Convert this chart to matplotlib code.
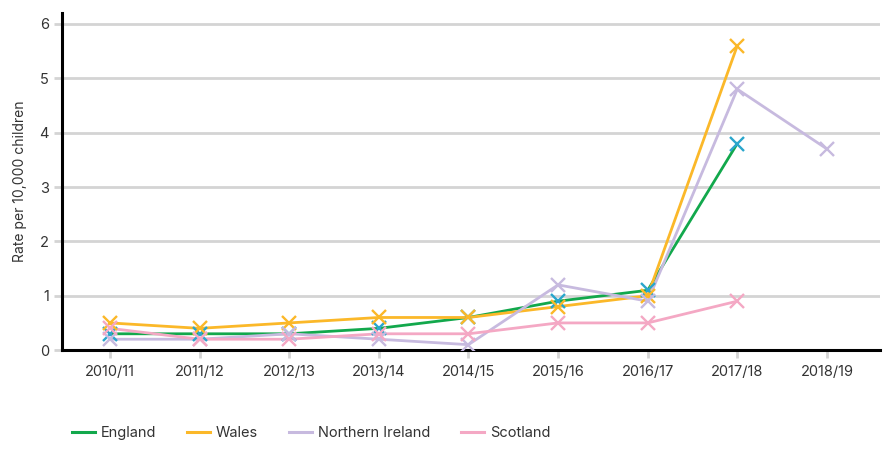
import matplotlib.pyplot as plt
from matplotlib.lines import Line2D

years = ['2010/11', '2011/12', '2012/13', '2013/14', '2014/15',
         '2015/16', '2016/17', '2017/18', '2018/19']
england = [0.3, 0.3, 0.3, 0.4, 0.6, 0.9, 1.1, 3.8]
wales = [0.5, 0.4, 0.5, 0.6, 0.6, 0.8, 1.0, 5.6]
n_ireland = [0.2, 0.2, 0.3, 0.2, 0.1, 1.2, 0.9, 4.8, 3.7]
scotland = [0.4, 0.2, 0.2, 0.3, 0.3, 0.5, 0.5, 0.9]

plt.rcParams['font.family'] = ['Inter', 'DejaVu Sans']

fig = plt.figure(figsize=(8.86, 4.5), dpi=100)
ax = fig.add_axes([0.07, 0.222, 0.923, 0.749])

# line colour, marker colour
series = [
    ('England', england, '#12a84c', '#2aa6cc'),
    ('Wales', wales, '#fbb829', '#fbb829'),
    ('Northern Ireland', n_ireland, '#c7badf', '#c7badf'),
    ('Scotland', scotland, '#f4a8c4', '#f4a8c4'),
]
for name, vals, lc, mc in series:
    xs = list(range(len(vals)))
    ax.plot(xs, vals, color=lc, lw=2, zorder=3)
    ax.plot(xs, vals, ls='none', marker='x', ms=10, mew=1.7, color=mc, zorder=4)

ax.set_xlim(-0.535, 8.59)
ax.set_ylim(0, 6.2)
ax.set_xticks(range(len(years)))
ax.set_xticklabels(years)
ax.set_yticks(range(7))
ax.yaxis.grid(True, color='#d4d4d4', lw=2)
ax.set_axisbelow(True)
for s in ['top', 'right']:
    ax.spines[s].set_visible(False)
ax.spines['left'].set_linewidth(2.2)
ax.spines['bottom'].set_linewidth(2.2)
ax.tick_params(axis='both', colors='#d4d4d4', width=2, length=6, labelcolor='#333333',
               labelsize=10.5)
ax.tick_params(axis='x', pad=5)
ax.set_ylabel('Rate per 10,000 children', fontsize=10, color='#333333', labelpad=9)

handles = [Line2D([], [], color=lc, lw=2.2) for _, _, lc, _ in series]
fig.legend(handles, [s[0] for s in series], loc='center left', bbox_to_anchor=(0.066, 0.038),
           ncol=4, frameon=False, fontsize=10.5, handlelength=1.6, columnspacing=2.1,
           handletextpad=0.4, labelcolor='#333333')

fig.savefig('out.png')
